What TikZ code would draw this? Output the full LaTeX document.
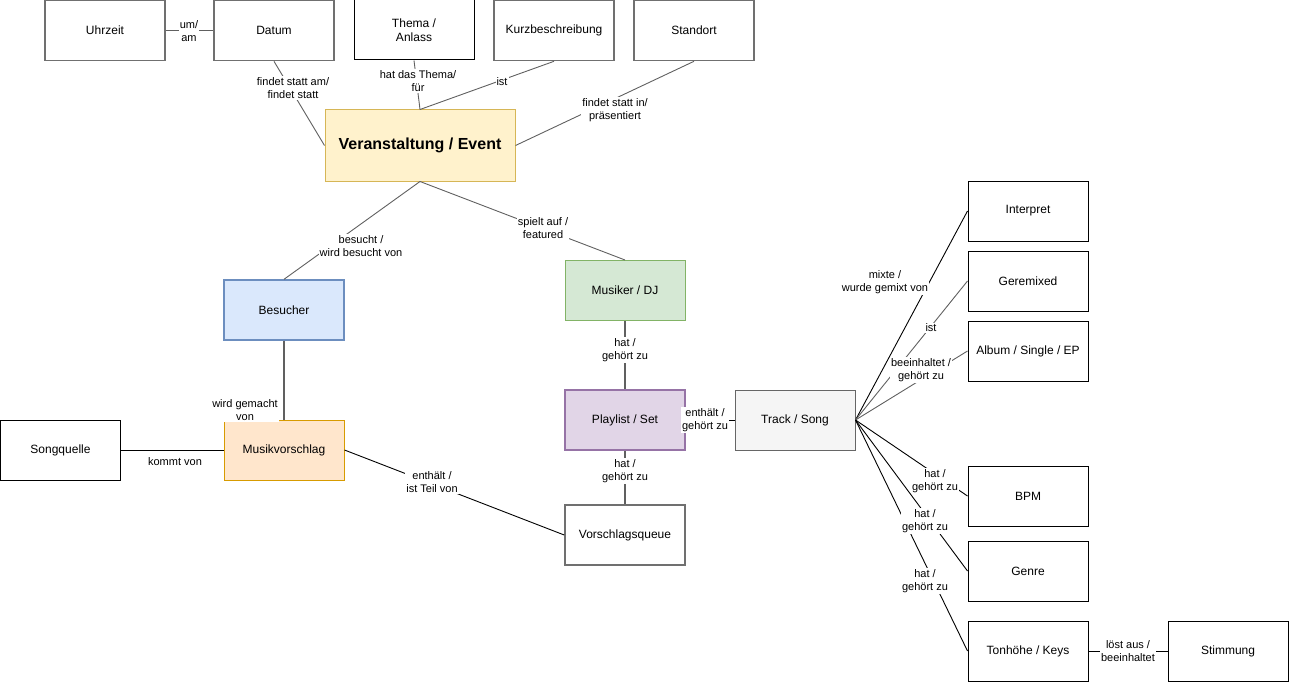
\documentclass[tikz,border=0pt]{standalone}
\usepackage{fontspec}
\setmainfont{Liberation Sans}
\definecolor{evfill}{HTML}{FFF2CC}\definecolor{evdraw}{HTML}{D6B656}
\definecolor{bsfill}{HTML}{DAE8FC}\definecolor{bsdraw}{HTML}{6C8EBF}
\definecolor{mufill}{HTML}{D5E8D4}\definecolor{mudraw}{HTML}{82B366}
\definecolor{plfill}{HTML}{E1D5E7}\definecolor{pldraw}{HTML}{9673A6}
\definecolor{trfill}{HTML}{F5F5F5}\definecolor{trdraw}{HTML}{666666}
\definecolor{mvfill}{HTML}{FFE6CC}\definecolor{mvdraw}{HTML}{D79B00}
\definecolor{gbox}{HTML}{707070}
\definecolor{gline}{HTML}{606060}
\begin{document}
\begin{tikzpicture}[x=1pt,y=-1pt,
  box/.style={draw=black,line width=1pt,minimum width=120pt,minimum height=60pt,inner sep=2pt,align=center,font=\fontsize{12}{14}\selectfont},
  gbx/.style={box,draw=gbox,line width=1.6pt},
  lbl/.style={fill=white,inner sep=1pt,align=center,font=\fontsize{11}{13.5}\selectfont},
  edge/.style={draw=black,line width=0.9pt},
  gedge/.style={draw=gline,line width=0.9pt},
  tedge/.style={draw=gline,line width=1.6pt}]
\path[use as bounding box] (0,0) rectangle (1289,682);
% nodes
\node[gbx] (uhr) at (105,30.5) {Uhrzeit};
\node[gbx] (dat) at (274,30.5) {Datum};
\node[box] (thema) at (414,30) {Thema /\\Anlass};
\node[gbx] (kurz) at (554,30.5) {Kurzbeschreibung};
\node[gbx] (stand) at (694,30.5) {Standort};
\node[box,draw=evdraw,fill=evfill,minimum width=190pt,minimum height=71pt,font=\fontsize{16}{18}\selectfont\bfseries] (ev) at (420,145.5) {Veranstaltung / Event};
\node[box,draw=bsdraw,fill=bsfill,line width=1.4pt] (bes) at (284,310) {Besucher};
\node[box,draw=mudraw,fill=mufill] (mus) at (625,290.5) {Musiker / DJ};
\node[box,draw=pldraw,fill=plfill,line width=1.4pt] (pl) at (625,420) {Playlist / Set};
\node[box,draw=trdraw,fill=trfill] (tr) at (795,420) {Track / Song};
\node[box,draw=mvdraw,fill=mvfill] (mv) at (284,450) {Musikvorschlag};
\node[box] (sq) at (60.5,450) {Songquelle};
\node[gbx] (vq) at (625,535) {Vorschlagsqueue};
\node[box] (int) at (1028,211) {Interpret};
\node[box] (rem) at (1028,281) {Geremixed};
\node[box] (alb) at (1028,351) {Album / Single / EP};
\node[box] (bpm) at (1028,496) {BPM};
\node[box] (gen) at (1028,571) {Genre};
\node[box] (ton) at (1028,651) {Tonhöhe / Keys};
\node[box] (stim) at (1228,651) {Stimmung};
% edges
\draw[tedge] (uhr.east) -- (dat.west);
\draw[gedge] (dat.south) -- (ev.west);
\draw[gedge] (thema.south) -- (ev.north);
\draw[gedge] (kurz.south) -- (ev.north);
\draw[gedge] (stand.south) -- (ev.east);
\draw[gedge] (ev.south) -- (bes.north);
\draw[gedge] (ev.south) -- (mus.north);
\draw[tedge] (mus.south) -- (pl.north);
\draw[tedge] (bes.south) -- (mv.north);
\draw[edge] (sq.east) -- (mv.west);
\draw[edge] (mv.east) -- (vq.west);
\draw[tedge] (pl.south) -- (vq.north);
\draw[edge] (pl.east) -- (tr.west);
\draw[edge] (tr.east) -- (int.west);
\draw[gedge] (tr.east) -- (rem.west);
\draw[gedge] (tr.east) -- (alb.west);
\draw[edge] (tr.east) -- (bpm.west);
\draw[edge] (tr.east) -- (gen.west);
\draw[edge] (tr.east) -- (ton.west);
\draw[edge] (ton.east) -- (stim.west);
% labels
\node[lbl] (l1) at (189,31) {um/\\am};
\node[lbl] (l2) at (293,88) {findet statt am/\\findet statt};
\node[lbl] (l3) at (418,81) {hat das Thema/\\für};
\node[lbl] (l4) at (502,82) {ist};
\node[lbl] (l5) at (615,110) {findet statt in/\\präsentiert};
\node[lbl] (l6) at (361,246) {besucht /\\wird besucht von};
\node[lbl] (l7) at (543,228) {spielt auf /\\featured};
\node[lbl] (l8) at (625,350) {hat /\\gehört zu};
\node[lbl] (l9) at (245,410) {wird gemacht\\von};
\node[lbl] (l10) at (175,462) {kommt von};
\node[lbl] (l11) at (432,482) {enthält /\\ist Teil von};
\node[lbl] (l12) at (625,471) {hat /\\gehört zu};
\node[lbl] (l13) at (705,420) {enthält /\\gehört zu};
\node[lbl] (l14) at (885,282) {mixte /\\wurde gemixt von};
\node[lbl] (l15) at (931,328) {ist};
\node[lbl] (l16) at (921,370) {beeinhaltet /\\gehört zu};
\node[lbl] (l17) at (935,481) {hat /\\gehört zu};
\node[lbl] (l18) at (925,521) {hat /\\gehört zu};
\node[lbl] (l19) at (925,581) {hat /\\gehört zu};
\node[lbl] (l20) at (1128,651) {löst aus /\\beeinhaltet};
\end{tikzpicture}
\end{document}
